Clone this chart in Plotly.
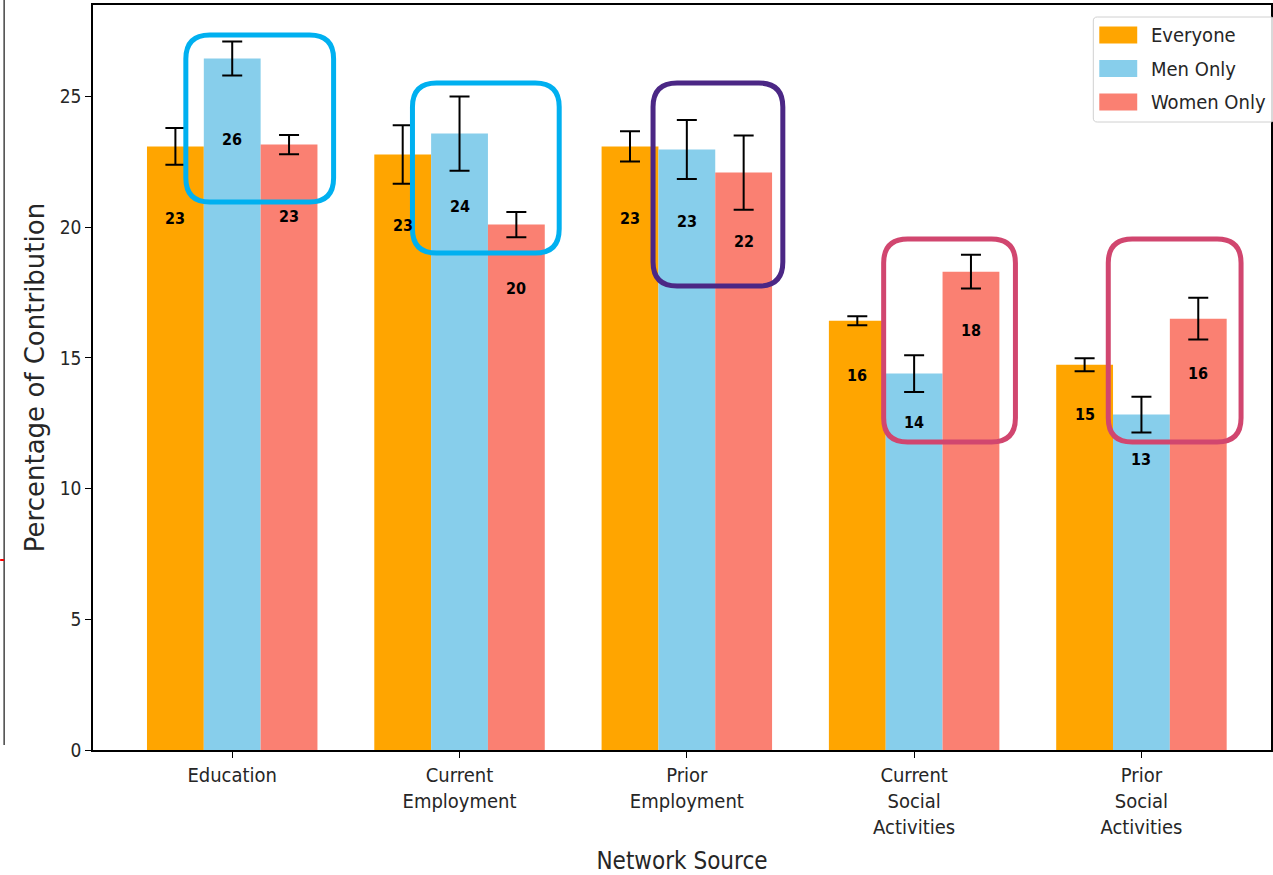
import plotly.graph_objects as go

categories = ["Education", "Current<br>Employment", "Prior<br>Employment",
              "Current<br>Social<br>Activities", "Prior<br>Social<br>Activities"]
everyone = [23.09, 22.78, 23.09, 16.42, 14.74]
everyone_err = [0.70, 1.12, 0.58, 0.17, 0.25]
men = [26.45, 23.58, 22.97, 14.40, 12.83]
men_err = [0.65, 1.42, 1.13, 0.70, 0.68]
women = [23.16, 20.10, 22.09, 18.30, 16.50]
women_err = [0.37, 0.48, 1.42, 0.65, 0.80]
y_ticks = [0, 5, 10, 15, 20, 25]

FONT = "DejaVu Sans Condensed, DejaVu Sans, sans-serif"
W, H = 1273, 875
L, R, T, B = 93, 0, 5, 125
PW, PH = W - L - R, H - T - B

series = [("Everyone", everyone, everyone_err, "#FFA500"),
          ("Men Only", men, men_err, "#87CEEB"),
          ("Women Only", women, women_err, "#FA8072")]

xs = list(range(len(categories)))
fig = go.Figure()
for name, vals, errs, col in series:
    fig.add_trace(go.Bar(
        x=xs, y=vals, name=name, marker=dict(color=col, line=dict(width=0)),
        error_y=dict(type="data", array=errs, visible=True, color="black",
                     thickness=2, width=10),
        showlegend=False,
    ))


def px2paper(x, y):
    return (x - L) / PW, (H - B - y) / PH


# value labels inside bars
annotations = []
offsets = [-0.25, 0.0, 0.25]
for (name, vals, errs, col), off in zip(series, offsets):
    for i, v in enumerate(vals):
        annotations.append(dict(
            x=i + off, y=v * 0.9, xref="x", yref="y", text=f"<b>{round(v)}</b>",
            showarrow=False, yanchor="top", xanchor="center",
            font=dict(family=FONT, size=16, color="black")))


def rounded_rect(x0, y0, x1, y1, r):
    def p(x, y):
        a, b = px2paper(x, y)
        return f"{a:.5f},{b:.5f}"
    return ("M " + p(x0 + r, y0) + " L " + p(x1 - r, y0) + " Q " + p(x1, y0) + " " + p(x1, y0 + r)
            + " L " + p(x1, y1 - r) + " Q " + p(x1, y1) + " " + p(x1 - r, y1)
            + " L " + p(x0 + r, y1) + " Q " + p(x0, y1) + " " + p(x0, y1 - r)
            + " L " + p(x0, y0 + r) + " Q " + p(x0, y0) + " " + p(x0 + r, y0) + " Z")


boxes = [
    (186, 35, 334, 202, "#00B0F0"),
    (413, 83, 560, 253, "#00B0F0"),
    (654, 83, 784, 286, "#4B2785"),
    (885, 239, 1017, 442, "#D1466F"),
    (1110, 239, 1243, 442, "#D1466F"),
]
shapes = []
for x0, y0, x1, y1, c in boxes:
    shapes.append(dict(type="path", xref="paper", yref="paper",
                       path=rounded_rect(x0, y0, x1, y1, 24),
                       line=dict(color=c, width=5), fillcolor="rgba(0,0,0,0)", layer="above"))

# custom legend (matplotlib-style wide swatches)
shapes.append(dict(type="path", xref="paper", yref="paper",
                   path=rounded_rect(1095, 17, 1276, 122, 4),
                   line=dict(color="#d0d0d0", width=1), fillcolor="rgba(255,255,255,0.85)",
                   layer="above"))
for k, (name, vals, errs, col) in enumerate(series):
    cy = 35 + k * 33.5
    a0, b0 = px2paper(1101, cy - 8.5)
    a1, b1 = px2paper(1139, cy + 8.5)
    shapes.append(dict(type="rect", xref="paper", yref="paper", x0=a0, y0=b0, x1=a1, y1=b1,
                       line=dict(width=0), fillcolor=col, layer="above"))
    tx, ty = px2paper(1151, cy)
    annotations.append(dict(x=tx, y=ty, xref="paper", yref="paper", text=name,
                            showarrow=False, xanchor="left", yanchor="middle",
                            font=dict(family=FONT, size=20, color="#262626")))

# fragment of neighbouring panel at far left
ax0, ay0 = px2paper(4, 0)
ax1, ay1 = px2paper(4, 745)
shapes.append(dict(type="line", xref="paper", yref="paper", x0=ax0, y0=ay0, x1=ax1, y1=ay1,
                   line=dict(color="#444", width=1.5)))
rx0, ry = px2paper(0, 560)
rx1, _ = px2paper(4, 560)
shapes.append(dict(type="line", xref="paper", yref="paper", x0=rx0, y0=ry, x1=rx1, y1=ry,
                   line=dict(color="red", width=2)))

fig.update_layout(
    width=W, height=H,
    margin=dict(l=L, r=R, t=T, b=B),
    paper_bgcolor="white", plot_bgcolor="white",
    barmode="group", bargap=0.25, bargroupgap=0,
    font=dict(family=FONT, size=16, color="#262626"),
    annotations=annotations, shapes=shapes,
    showlegend=False,
    xaxis=dict(
        tickmode="array", tickvals=xs, ticktext=categories,
        range=[-0.6125, 4.57], showline=True, linecolor="black", linewidth=1.5,
        mirror=True, ticks="outside", ticklen=6, tickcolor="black",
        tickfont=dict(family=FONT, size=20, color="#262626"),
        title=dict(text="Network Source", font=dict(family=FONT, size=24, color="#262626"),
                   standoff=16),
        showgrid=False, zeroline=False,
    ),
    yaxis=dict(
        range=[0, 28.5], tickvals=y_ticks, showline=True, linecolor="black", linewidth=1.5,
        mirror=True, ticks="outside", ticklen=6, tickcolor="black",
        tickfont=dict(family=FONT, size=19, color="#262626"),
        title=dict(text="Percentage of Contribution",
                   font=dict(family="DejaVu Sans, sans-serif", size=26, color="#262626"),
                   standoff=8),
        showgrid=False, zeroline=False,
    ),
)

fig.write_html("out.html")
